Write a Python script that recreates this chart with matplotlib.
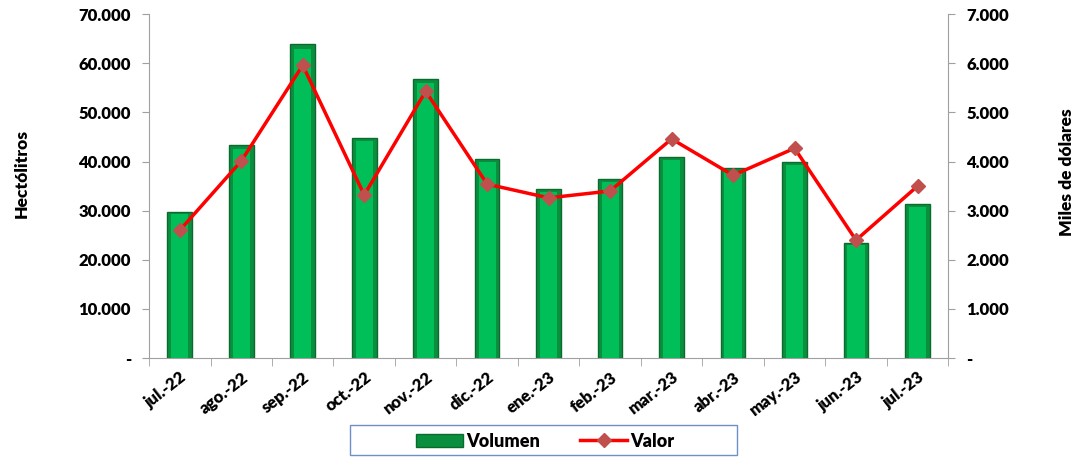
import matplotlib.pyplot as plt
import numpy as np
from matplotlib.patches import Rectangle
from matplotlib.ticker import FuncFormatter, MultipleLocator

plt.rcParams['font.family'] = ['Lato', 'DejaVu Sans']
plt.rcParams['font.weight'] = 'heavy'

meses = ['jul.-22', 'ago.-22', 'sep.-22', 'oct.-22', 'nov.-22', 'dic.-22', 'ene.-23',
         'feb.-23', 'mar.-23', 'abr.-23', 'may.-23', 'jun.-23', 'jul.-23']
volumen = [29800, 43300, 63900, 44800, 56800, 40500, 34400, 36400, 40900, 38700, 39900, 23400, 31300]
valor = [2600, 4010, 5960, 3320, 5430, 3540, 3260, 3400, 4460, 3720, 4270, 2400, 3500]


def miles(v, pos):
    if v == 0:
        return '-'
    return f'{v:,.0f}'.replace(',', '.')


fig = plt.figure(figsize=(10.8, 4.57), dpi=100)
ax = fig.add_axes([0.138, 0.2166, 0.740, 0.7524])
ax2 = ax.twinx()

x = np.arange(len(meses))
ax.bar(x, volumen, width=0.4, color='#0a8f3e', edgecolor='#0b6b2e', linewidth=1.0, zorder=2,
       label='Volumen')
# brillo interior
ax.bar(x, np.array(volumen) * 0.985, width=0.28, color='#00bf58', linewidth=0, zorder=3)

ax2.plot(x, valor, color='#ff0000', lw=2.5, marker='D', markersize=7,
         markerfacecolor='#c0504d', markeredgecolor='#c0504d', zorder=4, label='Valor')

ax.set_xlim(-0.5, len(meses) - 0.5)
ax.set_ylim(0, 70000)
ax2.set_ylim(0, 7000)
ax.yaxis.set_major_locator(MultipleLocator(10000))
ax2.yaxis.set_major_locator(MultipleLocator(1000))
ax.yaxis.set_major_formatter(FuncFormatter(miles))
ax2.yaxis.set_major_formatter(FuncFormatter(miles))

ax.set_xticks(x)
ax.set_xticklabels(meses, rotation=38, ha='right', rotation_mode='anchor', fontsize=12)
ax.tick_params(axis='x', length=0, pad=8)
ax.set_xticks(np.arange(-0.5, len(meses)), minor=True)
ax.tick_params(axis='x', which='minor', length=6, color='#a0a0a0')
ax.tick_params(axis='y', labelsize=12, color='#a0a0a0', length=5, pad=8)
ax2.tick_params(axis='y', labelsize=12, color='#a0a0a0', length=5, pad=8)

for a in (ax, ax2):
    for s in a.spines.values():
        s.set_visible(False)
ax.spines['left'].set_visible(True)
ax.spines['bottom'].set_visible(True)
ax2.spines['right'].set_visible(True)
for s in ('left', 'bottom'):
    ax.spines[s].set_color('#a0a0a0')
ax2.spines['right'].set_color('#a0a0a0')

fig.text(0.02, 0.62, 'Hectólitros', rotation=90, va='center', ha='center', fontsize=12.5)
fig.text(0.988, 0.623, 'Miles de dólares', rotation=90, va='center', ha='center', fontsize=12.5)

h1, l1 = ax.get_legend_handles_labels()
h2, l2 = ax2.get_legend_handles_labels()
leg = fig.legend(h1 + h2, l1 + l2, loc='center', bbox_to_anchor=(0.505, 0.035), ncol=2,
                 fontsize=13, frameon=False, columnspacing=2.2,
                 handlelength=2.6, handletextpad=0.2, borderaxespad=0)
# marco de la leyenda, más ancho que su contenido
fig.add_artist(Rectangle((0.324, 0.004), 0.358, 0.066, transform=fig.transFigure,
                         fill=False, edgecolor='#6f8fc7', linewidth=1.0))

fig.savefig('out.png', dpi=100)
